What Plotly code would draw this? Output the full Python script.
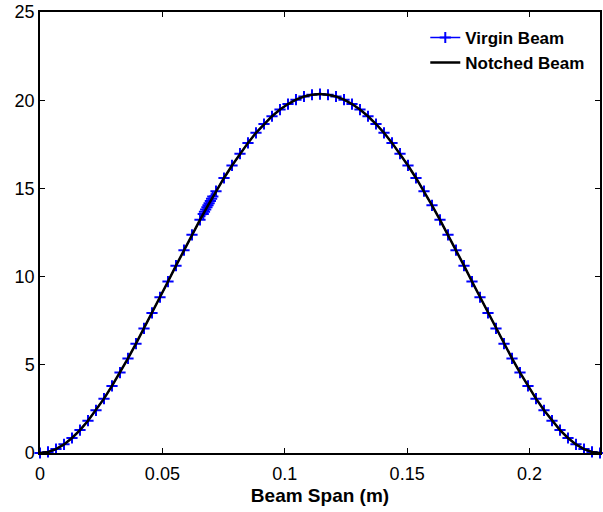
import plotly.graph_objects as go

# Beam span positions (m)
x_span = [0, 0.00327, 0.00654, 0.00981, 0.01307, 0.01634, 0.01961, 0.02288, 0.02615, 0.02942,
          0.03269, 0.03595, 0.03922, 0.04249, 0.04576, 0.04903, 0.05230, 0.05557, 0.05883, 0.06210,
          0.06537, 0.06864, 0.07191, 0.07518, 0.07845, 0.08171, 0.08498, 0.08825, 0.09152, 0.09479,
          0.09806, 0.10133, 0.10459, 0.10786, 0.11113, 0.11440, 0.11767, 0.12094, 0.12421, 0.12747,
          0.13074, 0.13401, 0.13728, 0.14055, 0.14382, 0.14709, 0.15035, 0.15362, 0.15689, 0.16016,
          0.16343, 0.16670, 0.16997, 0.17323, 0.17650, 0.17977, 0.18304, 0.18631, 0.18958, 0.19285,
          0.19611, 0.19938, 0.20265, 0.20592, 0.20919, 0.21246, 0.21573, 0.21899, 0.22226, 0.22553,
          0.22880]

shape_y = [0.00, 0.06, 0.22, 0.49, 0.85, 1.30, 1.83, 2.42, 3.08, 3.80,
           4.56, 5.36, 6.20, 7.06, 7.94, 8.83, 9.72, 10.62, 11.50, 12.37,
           13.22, 14.04, 14.84, 15.59, 16.30, 16.97, 17.58, 18.15, 18.65, 19.09,
           19.47, 19.78, 20.03, 20.21, 20.31, 20.35, 20.31, 20.21, 20.03, 19.78,
           19.47, 19.09, 18.65, 18.15, 17.58, 16.97, 16.30, 15.59, 14.84, 14.04,
           13.22, 12.37, 11.50, 10.62, 9.72, 8.83, 7.94, 7.06, 6.20, 5.36,
           4.56, 3.80, 3.08, 2.42, 1.83, 1.30, 0.85, 0.49, 0.22, 0.06,
           0.00]

# extra refined points of the virgin beam near the notch
notch_x = [0.0667, 0.0672, 0.0677, 0.0682, 0.0691, 0.0696, 0.0701, 0.0706]
notch_y = [13.55, 13.68, 13.80, 13.93, 14.16, 14.29, 14.41, 14.54]

virgin = sorted(zip(x_span + notch_x, shape_y + notch_y))
virgin_x = [p[0] for p in virgin]
virgin_y = [p[1] for p in virgin]

notched_x = x_span
notched_y = shape_y

x_ticks = [0, 0.05, 0.1, 0.15, 0.2]
x_tick_labels = ["0", "0.05", "0.1", "0.15", "0.2"]
y_ticks = [0, 5, 10, 15, 20, 25]

FONT = "Arial, Liberation Sans, sans-serif"

fig = go.Figure()
fig.add_trace(go.Scatter(
    x=virgin_x, y=virgin_y, mode="lines+markers", name="Virgin Beam",
    line=dict(color="#0000ff", width=1.5),
    marker=dict(symbol="cross-thin", size=8, color="#0000ff",
                line=dict(color="#0000ff", width=2)),
    cliponaxis=False,
))
fig.add_trace(go.Scatter(
    x=notched_x, y=notched_y, mode="lines", name="Notched Beam",
    line=dict(color="black", width=2.5),
    cliponaxis=False,
))

fig.update_layout(
    width=603, height=512,
    margin=dict(l=40, r=1, t=12, b=59),
    paper_bgcolor="white", plot_bgcolor="white",
    font=dict(family=FONT, size=18, color="black"),
    showlegend=True,
    legend=dict(
        x=0.688, y=0.982, xanchor="left", yanchor="top",
        bgcolor="white", borderwidth=0,
        font=dict(family=FONT, size=17, color="black", weight="bold"),
    ),
    xaxis=dict(
        range=[0, 0.2288], tickvals=x_ticks, ticktext=x_tick_labels,
        showline=True, linecolor="black", linewidth=1.5, mirror="ticks",
        ticks="inside", ticklen=5, tickcolor="black", tickwidth=1,
        showgrid=False, zeroline=False, ticklabelstandoff=4,
        tickfont=dict(family=FONT, size=18, color="black"),
        title=dict(text="Beam Span (m)", standoff=5,
                   font=dict(family=FONT, size=19, color="black", weight="bold")),
    ),
    yaxis=dict(
        range=[0, 25], tickvals=y_ticks,
        showline=True, linecolor="black", linewidth=1.5, mirror="ticks",
        ticks="inside", ticklen=5, tickcolor="black", tickwidth=1,
        showgrid=False, zeroline=False,
        tickfont=dict(family=FONT, size=18, color="black"),
    ),
)

fig.write_html("out.html")
